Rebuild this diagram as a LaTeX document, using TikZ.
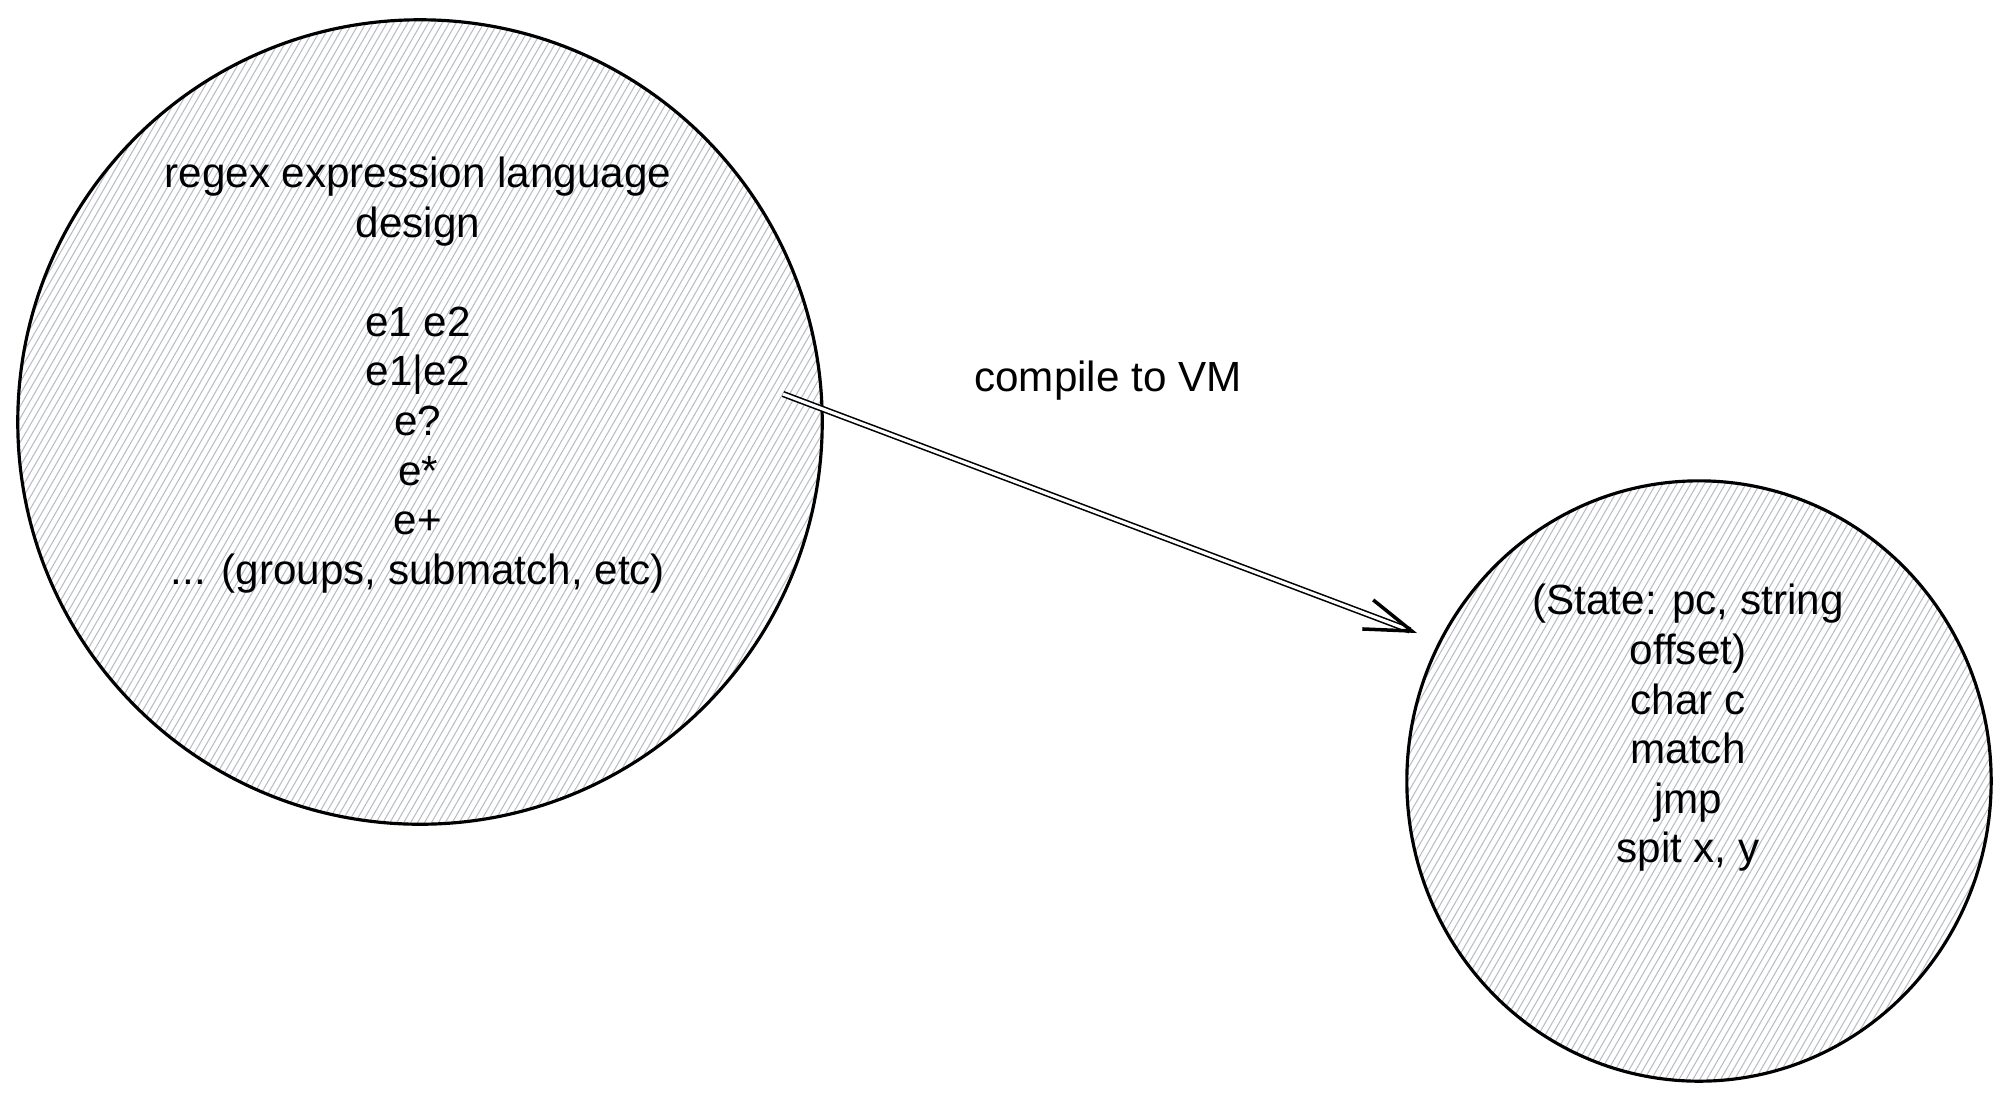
\documentclass[tikz,border=0pt]{standalone}
\usepackage{fontspec}
\setmainfont{Liberation Sans}
\usetikzlibrary{arrows.meta,calc,shapes.geometric}
\definecolor{hatchcol}{RGB}{185,190,198}
\tikzset{
  bubble/.style={draw=black, line width=0.9pt},
  hatch/.style={draw=hatchcol, line width=0.3pt},
  txt/.style={align=center, inner sep=0pt, font=\fontsize{12}{14.1}\selectfont},
  flow/.style={line width=0.45pt, double=white, double distance=0.9pt, -{Straight Barb[length=0.47cm,width=0.31cm,line width=1pt]}},
}
\begin{document}
\begin{tikzpicture}[x=0.01cm,y=-0.01cm]
\useasboundingbox[fill=white] (0,0) rectangle (2006,1093);
% left circle hatch
\begin{scope}
  \clip (420,422) circle (402);
  \foreach \k in {-70,...,70} {
    \draw[hatch] ({420+\k*5.2-210},{422+\k*3+364}) -- ++(420,-728);
  }
\end{scope}
% right circle hatch
\begin{scope}
  \clip (1699,781) ellipse (292 and 300);
  \foreach \k in {-52,...,52} {
    \draw[hatch] ({1699+\k*5.2-155},{781+\k*3+268}) -- ++(310,-536);
  }
\end{scope}
\node[bubble, circle, minimum size=8.04cm, inner sep=0pt] (src) at (420,422) {};
\node[bubble, ellipse, minimum width=5.84cm, minimum height=6.0cm, inner sep=0pt] (vm) at (1699,781) {};
\node[txt] (srctext) at (418,375) {regex expression language\\design\\[14.1pt]e1 e2\\e1|e2\\e?\\e*\\e+\\... (groups, submatch, etc)};
\node[txt] (vmtext) at (1688,728) {(State: pc, string\\offset)\\char c\\match\\jmp\\spit x, y};
\node[txt] (lbl) at (1108,381) {compile to VM};
\coordinate (a1) at (783,394);
\coordinate (a2) at (1417,633);
\draw[flow] (a1) -- (a2);
\end{tikzpicture}
\end{document}
